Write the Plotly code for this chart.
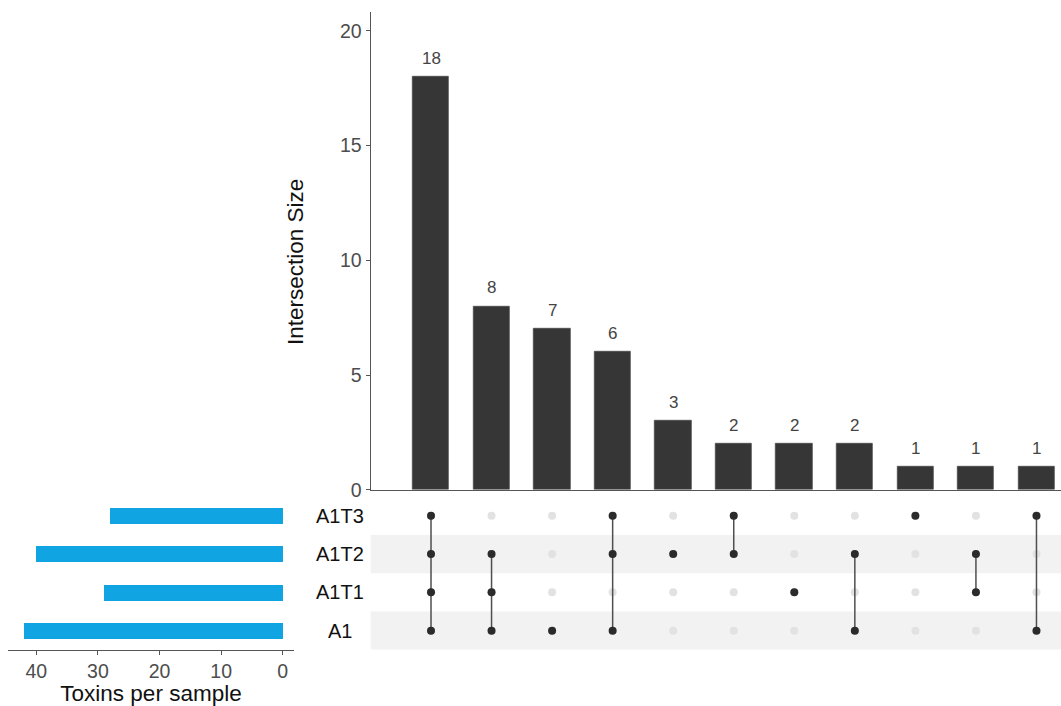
import plotly.graph_objects as go

# ---- data ----
sets = ["A1", "A1T1", "A1T2", "A1T3"]          # bottom -> top
set_sizes = [42, 29, 40, 28]
intersection_sizes = [18, 8, 7, 6, 3, 2, 2, 2, 1, 1, 1]
memberships = [
    ["A1", "A1T1", "A1T2", "A1T3"],
    ["A1", "A1T1", "A1T2"],
    ["A1"],
    ["A1", "A1T2", "A1T3"],
    ["A1T2"],
    ["A1T2", "A1T3"],
    ["A1T1"],
    ["A1", "A1T2"],
    ["A1T3"],
    ["A1T1", "A1T2"],
    ["A1", "A1T3"],
]
left_title = "Toxins per sample"
main_title = "Intersection Size"

W, H = 1061, 706
FONT = "Liberation Sans, Arial, sans-serif"

def px_x(p):
    return p / W

def px_y(p):
    return 1 - p / H

cols = list(range(len(intersection_sizes)))
xdom = [px_x(370.7), 1.0]
xrange_ = [-0.996, 10.405]
ydom_main = [px_y(489.7), px_y(11.7)]
ydom_mat = [px_y(649.8), px_y(496.6)]
xdom_left = [px_x(8), px_x(294)]

fig = go.Figure()

# main intersection bars
fig.add_trace(go.Bar(
    x=cols, y=intersection_sizes, width=0.6,
    marker=dict(color="#363636", line=dict(color="#4a4a4a", width=0.8)),
    xaxis="x", yaxis="y", showlegend=False,
))

# matrix: light background dots
ys_all, xs_all = [], []
for c in cols:
    for i, s in enumerate(sets):
        xs_all.append(c)
        ys_all.append(i)
fig.add_trace(go.Scatter(
    x=xs_all, y=ys_all, mode="markers",
    marker=dict(color="#e2e2e2", size=8),
    xaxis="x2", yaxis="y2", showlegend=False, hoverinfo="skip",
))

# matrix: connecting lines
for c, mem in zip(cols, memberships):
    idx = [sets.index(s) for s in mem]
    if len(idx) > 1:
        fig.add_trace(go.Scatter(
            x=[c, c], y=[min(idx), max(idx)], mode="lines",
            line=dict(color="#4f4f4f", width=1.5),
            xaxis="x2", yaxis="y2", showlegend=False, hoverinfo="skip",
        ))

# matrix: active dots
ax, ay = [], []
for c, mem in zip(cols, memberships):
    for s in mem:
        ax.append(c)
        ay.append(sets.index(s))
fig.add_trace(go.Scatter(
    x=ax, y=ay, mode="markers",
    marker=dict(color="#2b2b2b", size=8),
    xaxis="x2", yaxis="y2", showlegend=False, hoverinfo="skip",
))

# left set-size bars
fig.add_trace(go.Bar(
    x=set_sizes, y=list(range(len(sets))), orientation="h", width=0.42,
    marker=dict(color="#10a5e2", line=dict(width=0)),
    xaxis="x3", yaxis="y3", showlegend=False,
))

# stripes
shapes = []
for i in range(len(sets)):
    if i % 2 == 0:
        shapes.append(dict(
            type="rect", xref="paper", yref="y2",
            x0=xdom[0], x1=xdom[1], y0=i - 0.5, y1=i + 0.5,
            fillcolor="#f2f2f2", line=dict(width=0), layer="below",
        ))

annotations = []
for c, v in zip(cols, intersection_sizes):
    annotations.append(dict(
        x=c, xref="x", y=v, yref="y", text=str(v), showarrow=False,
        xanchor="center", yanchor="bottom", yshift=7,
        font=dict(size=17, color="#444444", family=FONT),
    ))
for i, s in enumerate(sets):
    annotations.append(dict(
        x=px_x(340), xref="paper", y=i, yref="y2", text=s,
        showarrow=False, xanchor="center", yanchor="middle",
        font=dict(size=20, color="#111111", family=FONT),
    ))
annotations.append(dict(
    x=px_x(295), xref="paper", y=px_y(262), yref="paper", text=main_title,
    textangle=-90, showarrow=False, xanchor="center", yanchor="middle",
    font=dict(size=22.5, color="#111111", family=FONT),
))

axis_common = dict(automargin=False, showgrid=False, zeroline=False)

fig.update_layout(
    template="none",
    width=W, height=H,
    margin=dict(l=0, r=0, t=0, b=0, pad=0),
    paper_bgcolor="white", plot_bgcolor="rgba(0,0,0,0)",
    font=dict(family=FONT),
    bargap=0,
    shapes=shapes,
    annotations=annotations,
    xaxis=dict(domain=xdom, range=xrange_, showticklabels=False, ticks="",
               showline=True, linecolor="#555555", linewidth=1.2, anchor="y",
               **axis_common),
    yaxis=dict(domain=ydom_main, range=[0, 20.84], tickvals=[0, 5, 10, 15, 20],
               ticks="outside", ticklen=4, tickcolor="#555555", tickwidth=1,
               tickfont=dict(size=19.5, color="#4d4d4d", family=FONT),
               showline=True, linecolor="#555555", linewidth=1.2, anchor="x",
               **axis_common),
    xaxis2=dict(domain=xdom, range=xrange_, visible=False, anchor="y2",
                **axis_common),
    yaxis2=dict(domain=ydom_mat, range=[-0.5, 3.5], visible=False, anchor="x2",
                **axis_common),
    xaxis3=dict(domain=xdom_left, range=[44.6, -1.83], tickvals=[0, 10, 20, 30, 40],
                ticks="outside", ticklen=4, tickcolor="#555555", tickwidth=1,
                tickfont=dict(size=19.5, color="#4d4d4d", family=FONT),
                showline=True, linecolor="#555555", linewidth=1.2, anchor="y3",
                title=dict(text=left_title, standoff=2,
                           font=dict(size=22.5, color="#111111", family=FONT)),
                **axis_common),
    yaxis3=dict(domain=ydom_mat, range=[-0.5, 3.5], visible=False, anchor="x3",
                **axis_common),
)

fig.write_html("out.html")
